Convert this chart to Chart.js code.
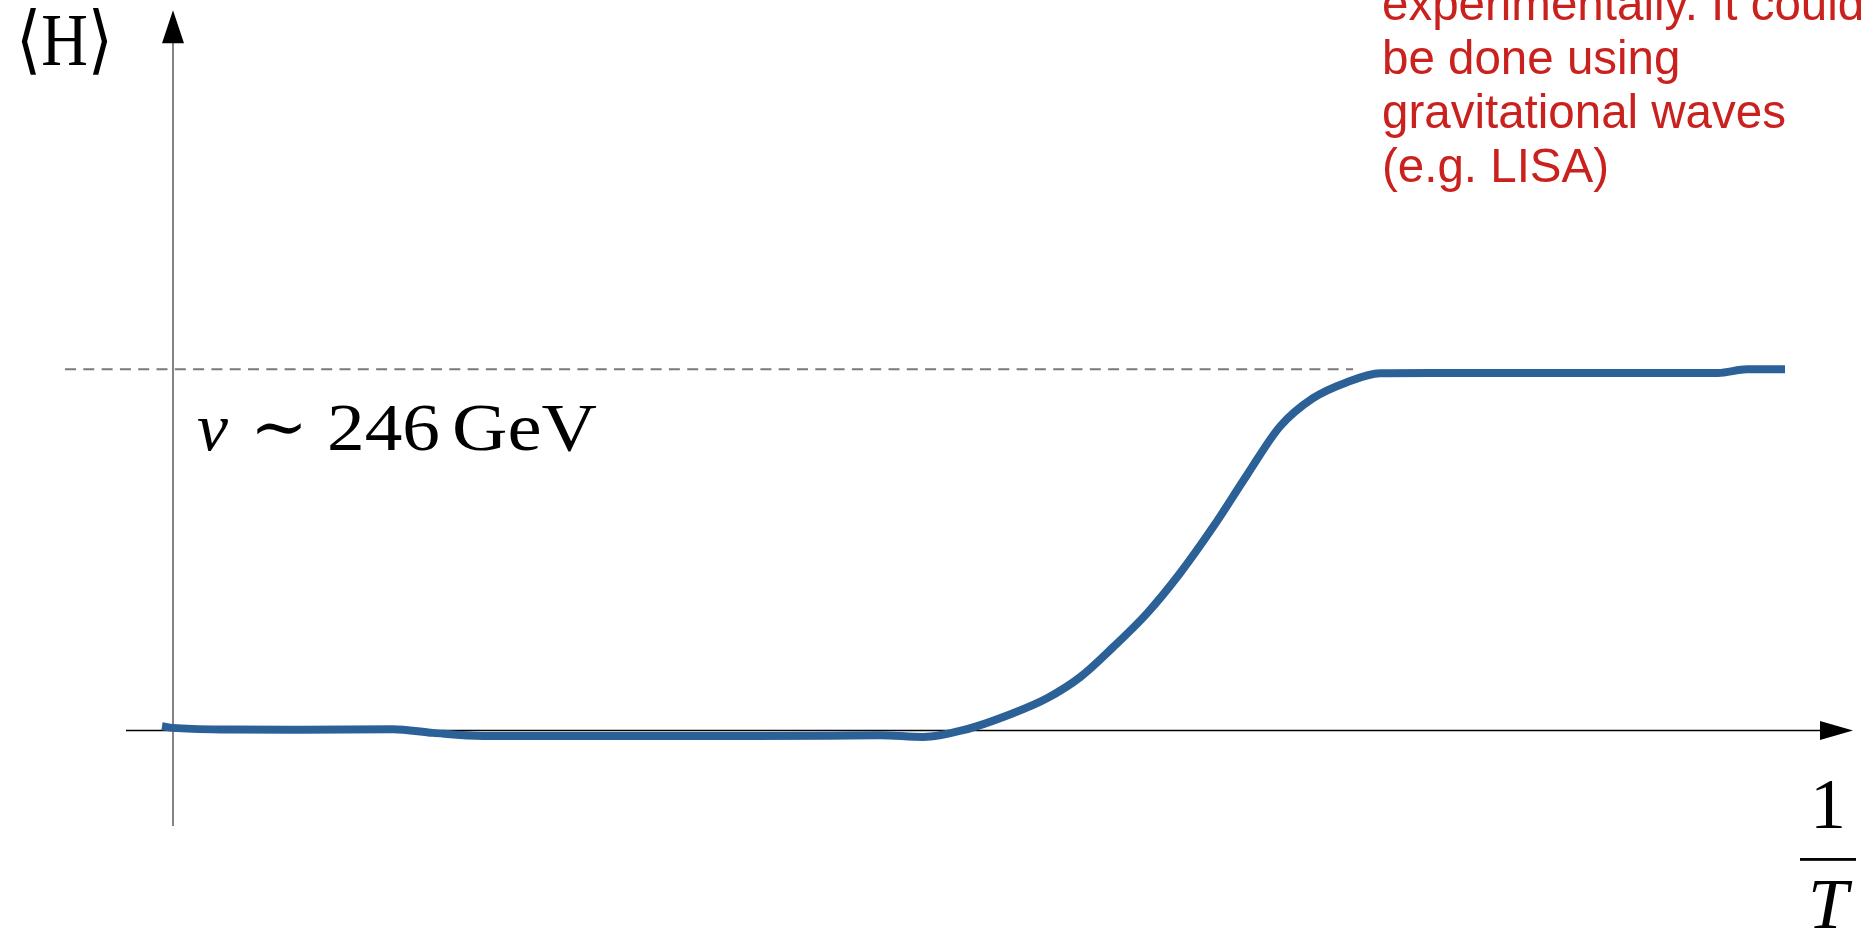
<!DOCTYPE html>
<html>
<head>
<meta charset="utf-8">
<script src="https://cdn.jsdelivr.net/npm/chart.js@4/dist/chart.umd.min.js"></script>
<style>
  html, body { margin: 0; padding: 0; background: #ffffff; }
  #wrap { width: 1865px; height: 928px; position: relative; }
</style>
</head>
<body>
<div id="wrap"><canvas id="chart"></canvas></div>
<script>
// Inverse temperature 1/T (arbitrary units) and Higgs expectation value <H> (GeV)
const inverseT = [-0.11, 0, 0.6, 1.27, 2.2, 2.6, 3.1, 4.27, 5.77, 6.57, 7.07, 7.5, 7.9, 8.4, 8.74, 9.07, 9.4, 9.74, 10.07, 10.4, 10.74, 11.07, 11.4, 11.74, 12.07, 12.57, 13.27, 14.4, 15.45, 15.74, 16.12];
const higgsVev = [2.9, 1.8, 0.7, 0.5, 0.9, -1.6, -3.7, -3.7, -3.7, -3.5, -3.2, -4.4, 0.2, 11.8, 22.0, 36.3, 56.7, 79.8, 107.1, 138.5, 174.0, 207.0, 226.3, 237.2, 243.3, 243.5, 243.5, 243.5, 243.5, 246.0, 246.0];

// Vacuum expectation value reference line
const vevValue = 246;
const vevLineX = [-1.08, 11.8];

// Axis extents (data units)
const xAxisRange = [-0.47, 16.8];
const yAxisRange = [-65, 490.4];

const noteLines = ["experimentally. It could", "be done using", "gravitational waves", "(e.g. LISA)"];

const serif = '"Liberation Serif", "DejaVu Serif", serif';
const sans = '"Liberation Sans", Arial, sans-serif';

// draw a text piece stretched to a given width
function fitText(ctx, text, x, y, width) {
  const w = ctx.measureText(text).width;
  ctx.save();
  ctx.translate(x, y);
  ctx.scale(width / w, 1);
  ctx.fillText(text, 0, 0);
  ctx.restore();
}

const axesPlugin = {
  id: 'phaseAxes',
  beforeDatasetsDraw(chart) {
    const ctx = chart.ctx;
    const xs = chart.scales.x, ys = chart.scales.y;
    const x0 = xs.getPixelForValue(0), y0 = ys.getPixelForValue(0);
    const xL = xs.getPixelForValue(xAxisRange[0]), xR = xs.getPixelForValue(xAxisRange[1]);
    const yB = ys.getPixelForValue(yAxisRange[0]), yT = ys.getPixelForValue(yAxisRange[1]);
    ctx.save();
    // vertical axis
    ctx.strokeStyle = '#6e6e6e';
    ctx.lineWidth = 1.7;
    ctx.beginPath();
    ctx.moveTo(x0, yB);
    ctx.lineTo(x0, yT + 30);
    ctx.stroke();
    ctx.fillStyle = '#000';
    ctx.beginPath();
    ctx.moveTo(x0, yT);
    ctx.lineTo(x0 - 11, yT + 33);
    ctx.lineTo(x0 + 11, yT + 33);
    ctx.closePath();
    ctx.fill();
    // horizontal axis
    ctx.strokeStyle = '#000';
    ctx.lineWidth = 1.5;
    ctx.beginPath();
    ctx.moveTo(xL, y0);
    ctx.lineTo(xR - 30, y0);
    ctx.stroke();
    ctx.beginPath();
    ctx.moveTo(xR, y0);
    ctx.lineTo(xR - 33, y0 - 9.5);
    ctx.lineTo(xR - 33, y0 + 9.5);
    ctx.closePath();
    ctx.fill();
    ctx.restore();
  },
  afterDraw(chart) {
    const ctx = chart.ctx;
    const xs = chart.scales.x, ys = chart.scales.y;
    const x0 = xs.getPixelForValue(0), y0 = ys.getPixelForValue(0);
    const yV = ys.getPixelForValue(vevValue);
    const xR = xs.getPixelForValue(xAxisRange[1]);
    ctx.save();
    ctx.fillStyle = '#000';
    ctx.textBaseline = 'alphabetic';
    // y-axis label
    ctx.textAlign = 'left';
    ctx.font = '75px ' + serif;
    fitText(ctx, '\u27E8H\u27E9', x0 - 157, 65, 97);
    // vev label
    const by = yV + 81;
    ctx.font = 'italic 68px ' + serif;
    fitText(ctx, 'v', x0 + 24, by, 31);
    ctx.font = '68px ' + serif;
    fitText(ctx, '\u223C', x0 + 77, by, 58);
    fitText(ctx, '246', x0 + 154, by, 113);
    fitText(ctx, 'GeV', x0 + 279, by, 145);
    // x-axis label 1/T
    const cx = xR - 25;
    ctx.textAlign = 'center';
    ctx.font = '72px ' + serif;
    ctx.fillText('1', cx, y0 + 97);
    ctx.fillRect(cx - 28, y0 + 127.5, 56, 2.8);
    ctx.font = 'italic 72px ' + serif;
    ctx.fillText('T', cx, y0 + 197);
    // note text
    ctx.textAlign = 'left';
    ctx.fillStyle = '#c9211e';
    ctx.font = '47.5px ' + sans;
    noteLines.forEach((t, i) => ctx.fillText(t, 1382, 19.5 + i * 54));
    ctx.restore();
  }
};

new Chart(document.getElementById('chart'), {
  type: 'line',
  data: {
    datasets: [
      {
        label: '<H>',
        data: inverseT.map((x, i) => ({ x, y: higgsVev[i] })),
        borderColor: '#2c6198',
        borderWidth: 8,
        borderCapStyle: 'butt',
        borderJoinStyle: 'round',
        pointRadius: 0,
        fill: false,
        cubicInterpolationMode: 'monotone'
      },
      {
        label: 'v',
        data: vevLineX.map(x => ({ x, y: vevValue })),
        borderColor: '#7a7a7a',
        borderWidth: 1.8,
        borderDash: [11, 7.3],
        pointRadius: 0,
        fill: false
      }
    ]
  },
  options: {
    responsive: true,
    maintainAspectRatio: false,
    animation: false,
    layout: { padding: { left: 60, right: 5, top: 5, bottom: 97.6 } },
    plugins: { legend: { display: false }, tooltip: { enabled: false } },
    scales: {
      x: { type: 'linear', min: -1.13, max: 16.87, display: false },
      y: { type: 'linear', min: -68, max: 494, display: false }
    }
  },
  plugins: [axesPlugin]
});
</script>
</body>
</html>
